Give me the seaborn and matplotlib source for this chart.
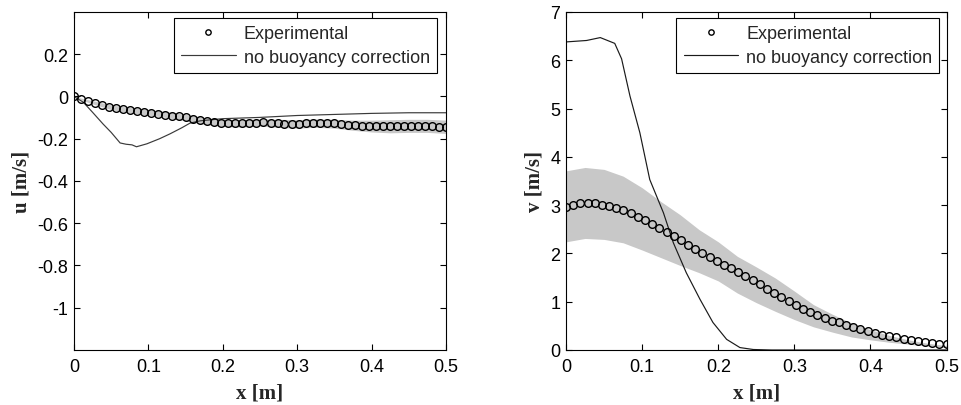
"""Velocity profiles: experimental data vs simulation without buoyancy correction."""

import matplotlib
matplotlib.use("Agg")
import matplotlib.pyplot as plt
import numpy as np
import pandas as pd
import seaborn as sns

# Experimental sampling positions [m]
x_exp = [0.0000, 0.0094, 0.0189, 0.0283, 0.0377, 0.0472, 0.0566, 0.0660, 0.0755, 0.0849,
         0.0943, 0.1038, 0.1132, 0.1226, 0.1321, 0.1415, 0.1509, 0.1604, 0.1698, 0.1792,
         0.1887, 0.1981, 0.2075, 0.2170, 0.2264, 0.2358, 0.2453, 0.2547, 0.2642, 0.2736,
         0.2830, 0.2925, 0.3019, 0.3113, 0.3208, 0.3302, 0.3396, 0.3491, 0.3585, 0.3679,
         0.3774, 0.3868, 0.3962, 0.4057, 0.4151, 0.4245, 0.4340, 0.4434, 0.4528, 0.4623,
         0.4717, 0.4811, 0.4906, 0.5000]

u_exp = [0.000, -0.010, -0.022, -0.033, -0.042, -0.049, -0.055, -0.060, -0.065, -0.070,
         -0.074, -0.078, -0.082, -0.086, -0.090, -0.094, -0.099, -0.105, -0.111, -0.117,
         -0.121, -0.124, -0.126, -0.127, -0.127, -0.126, -0.124, -0.123, -0.124, -0.126,
         -0.128, -0.129, -0.129, -0.127, -0.125, -0.124, -0.125, -0.127, -0.130, -0.133,
         -0.136, -0.138, -0.140, -0.141, -0.141, -0.141, -0.140, -0.139, -0.138, -0.138,
         -0.139, -0.141, -0.143, -0.145]

v_exp = [2.97, 3.01, 3.04, 3.05, 3.04, 3.01, 2.98, 2.94, 2.89, 2.83,
         2.76, 2.69, 2.61, 2.53, 2.45, 2.36, 2.27, 2.18, 2.09, 2.00,
         1.92, 1.84, 1.76, 1.69, 1.61, 1.53, 1.45, 1.36, 1.27, 1.18,
         1.09, 1.01, 0.93, 0.85, 0.78, 0.72, 0.66, 0.61, 0.57, 0.52,
         0.48, 0.43, 0.39, 0.35, 0.32, 0.29, 0.26, 0.23, 0.21, 0.19,
         0.17, 0.15, 0.13, 0.12]

# Experimental uncertainty band
x_band = [0.0, 0.025, 0.05, 0.075, 0.1, 0.125, 0.15, 0.175, 0.2, 0.225, 0.25,
          0.275, 0.3, 0.325, 0.35, 0.375, 0.4, 0.425, 0.45, 0.475, 0.5]
u_upper = [0.000, -0.020, -0.040, -0.052, -0.062, -0.072, -0.085, -0.100, -0.108, -0.110, -0.106,
           -0.108, -0.110, -0.106, -0.108, -0.112, -0.112, -0.110, -0.108, -0.108, -0.112]
u_lower = [-0.005, -0.035, -0.062, -0.078, -0.088, -0.100, -0.115, -0.132, -0.142, -0.145, -0.140,
           -0.146, -0.150, -0.146, -0.150, -0.160, -0.168, -0.172, -0.170, -0.170, -0.175]
v_upper = [3.71, 3.78, 3.74, 3.60, 3.36, 3.07, 2.80, 2.49, 2.24, 1.94, 1.72,
           1.49, 1.22, 0.94, 0.74, 0.56, 0.42, 0.30, 0.21, 0.14, 0.09]
v_lower = [2.24, 2.31, 2.29, 2.22, 2.07, 1.91, 1.75, 1.60, 1.43, 1.18, 0.98,
           0.80, 0.63, 0.48, 0.37, 0.27, 0.21, 0.16, 0.12, 0.08, 0.05]

# Simulation, no buoyancy correction
x_sim_u = [0.0, 0.0125, 0.025, 0.039, 0.05, 0.062, 0.07, 0.078, 0.084, 0.098, 0.115,
           0.129, 0.145, 0.156, 0.17, 0.2, 0.25, 0.3, 0.35, 0.4, 0.45, 0.5]
u_sim = [0.0, -0.027, -0.075, -0.13, -0.17, -0.22, -0.226, -0.229, -0.238, -0.224, -0.2,
         -0.177, -0.148, -0.126, -0.115, -0.105, -0.099, -0.09, -0.085, -0.08, -0.077, -0.077]
x_sim_v = [0.0, 0.027, 0.045, 0.064, 0.073, 0.084, 0.097, 0.110, 0.128, 0.141, 0.158,
           0.176, 0.193, 0.211, 0.2285, 0.246, 0.27, 0.5]
v_sim = [6.38, 6.41, 6.47, 6.35, 6.03, 5.26, 4.50, 3.53, 2.84, 2.22, 1.60,
         1.05, 0.57, 0.22, 0.05, 0.01, 0.0, 0.0]

x_ticks = [0, 0.1, 0.2, 0.3, 0.4, 0.5]
x_tick_labels = ["0", "0.1", "0.2", "0.3", "0.4", "0.5"]
u_ticks = [-1.0, -0.8, -0.6, -0.4, -0.2, 0.0, 0.2]
u_tick_labels = ["-1", "-0.8", "-0.6", "-0.4", "-0.2", "0", "0.2"]
v_ticks = [0, 1, 2, 3, 4, 5, 6, 7]


def main() -> None:
    sns.set_theme(style="ticks")
    plt.rcParams["font.family"] = ["Liberation Sans", "DejaVu Sans"]

    exp = pd.DataFrame({"x": x_exp, "u": u_exp, "v": v_exp})
    band = pd.DataFrame({"x": x_band, "u_lo": u_lower, "u_hi": u_upper,
                         "v_lo": v_lower, "v_hi": v_upper})
    sim_u = pd.DataFrame({"x": x_sim_u, "u": u_sim})
    sim_v = pd.DataFrame({"x": x_sim_v, "v": v_sim})

    fig = plt.figure(figsize=(9.61, 4.06), dpi=100, facecolor="white")
    ax_u = fig.add_axes([0.077, 0.1355, 0.387, 0.8325])
    ax_v = fig.add_axes([0.589, 0.1355, 0.396, 0.8325])

    label_font = dict(family=["Liberation Serif", "DejaVu Serif"], weight="bold", size=15)

    panels = [
        (ax_u, "u", sim_u, (-1.2, 0.4), u_ticks, u_tick_labels, "u [m/s]", 0.976, "#3a3a3a"),
        (ax_v, "v", sim_v, (0, 7), v_ticks, [str(t) for t in v_ticks], "v [m/s]", 0.981, "#1a1a1a"),
    ]

    for ax, comp, sim, ylim, yt, ytl, ylab, leg_x, line_col in panels:
        ax.fill_between(band["x"], band[comp + "_lo"], band[comp + "_hi"],
                        color="#c8c8c8", linewidth=0, zorder=1)
        sns.lineplot(data=sim, x="x", y=comp, ax=ax, color=line_col, linewidth=0.85,
                     label="no buoyancy correction", zorder=2)
        sns.lineplot(data=exp, x="x", y=comp, ax=ax, linestyle="", marker="o",
                     markersize=5.5, markerfacecolor="none", markeredgecolor="black",
                     markeredgewidth=1.0, label="Experimental", zorder=3)

        ax.set_xlim(0, 0.5)
        ax.set_ylim(*ylim)
        ax.set_xticks(x_ticks)
        ax.set_xticklabels(x_tick_labels)
        ax.set_yticks(yt)
        ax.set_yticklabels(ytl)
        ax.tick_params(direction="in", top=True, right=True, length=4, width=0.8,
                       labelsize=13, colors="black")
        ax.tick_params(axis="x", pad=6)
        ax.tick_params(axis="y", pad=4)
        for sp in ax.spines.values():
            sp.set_visible(True)
            sp.set_color("black")
            sp.set_linewidth(0.8)
        ax.set_xlabel("x [m]", fontdict=label_font, labelpad=5)
        ax.set_ylabel(ylab, fontdict=label_font, labelpad=4)

        handles, labels = ax.get_legend_handles_labels()
        order = [labels.index("Experimental"), labels.index("no buoyancy correction")]
        leg = ax.legend([handles[i] for i in order], [labels[i] for i in order],
                        loc="upper right", bbox_to_anchor=(leg_x, 0.982),
                        borderaxespad=0, fontsize=13, handlelength=3.0,
                        handletextpad=0.45, labelspacing=0.35, borderpad=0.4,
                        markerscale=0.7, fancybox=False, framealpha=1,
                        edgecolor="black")
        leg.get_frame().set_linewidth(0.8)

    fig.savefig("out.png", dpi=100, facecolor="white")
    plt.close(fig)


if __name__ == "__main__":
    main()
